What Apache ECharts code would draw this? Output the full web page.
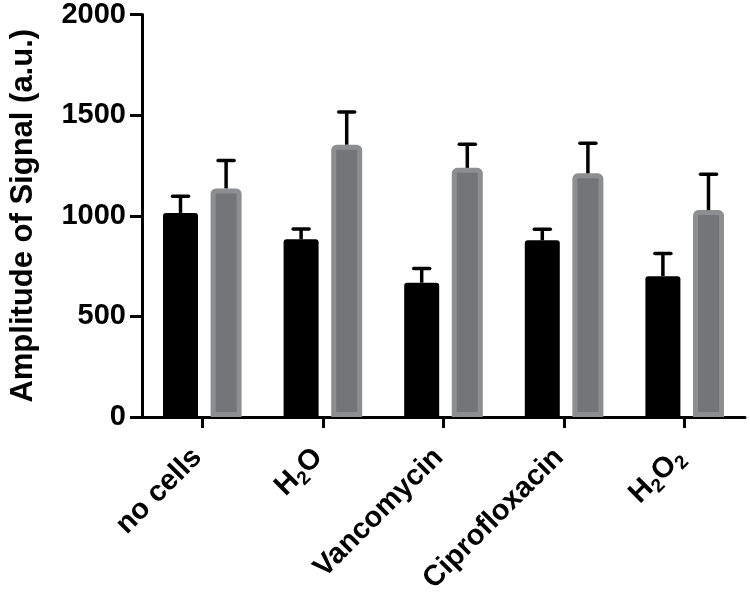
<!DOCTYPE html>
<html>
<head>
<meta charset="utf-8">
<script src="https://cdn.jsdelivr.net/npm/echarts@6/dist/echarts.min.js"></script>
<style>html,body{margin:0;padding:0;background:#fff;}#chart{width:750px;height:600px;}</style>
</head>
<body>
<div id="chart"></div>
<script>
// ---- data ----
const categories = ['no cells', 'H2O', 'Vancomycin', 'Ciprofloxacin', 'H2O2'];
const blackValues = [1014, 883, 667, 878, 700];
const blackErrors = [83, 51, 71, 55, 112];
const grayValues = [1136, 1353, 1238, 1211, 1028];
const grayErrors = [139, 162, 117, 149, 178];
const yTicks = [0, 500, 1000, 1500, 2000];
const yTitle = 'Amplitude of Signal (a.u.)';

// ---- layout constants ----
const FONT = 'Liberation Sans';
const BLACK_W = 35, GRAY_W = 31, GAP = 0.36, GRAY_BORDER = 5;
const offStart = -(BLACK_W * (1 + GAP) + GRAY_W) / 2;
const blackCenter = offStart + BLACK_W / 2;
const grayCenter = offStart + BLACK_W * (1 + GAP) + GRAY_W / 2;

function errRender(offset) {
  return function (params, api) {
    const cx = api.coord([api.value(0), 0])[0] + offset;
    const yBase = api.coord([api.value(0), api.value(1)])[1];
    const yTop = api.coord([api.value(0), api.value(1) + api.value(2)])[1];
    return {
      type: 'group',
      children: [
        { type: 'line', shape: { x1: cx, y1: yBase, x2: cx, y2: yTop }, style: { stroke: '#000', lineWidth: 3.5 } },
        { type: 'line', shape: { x1: cx - 8, y1: yTop, x2: cx + 8, y2: yTop }, style: { stroke: '#000', lineWidth: 3.5, lineCap: 'round' } }
      ]
    };
  };
}

const chart = echarts.init(document.getElementById('chart'), null, { renderer: 'canvas' });
chart.setOption({
  animation: false,
  backgroundColor: '#fff',
  grid: { left: 142, right: 5, top: 14, bottom: 183, containLabel: false },
  xAxis: {
    type: 'category',
    data: categories,
    axisLine: { lineStyle: { color: '#000', width: 3 } },
    axisTick: { show: true, alignWithLabel: true, length: 11, lineStyle: { color: '#000', width: 3 } },
    axisLabel: {
      rotate: 45, margin: 31, interval: 0, padding: [0, 7, 0, 0],
      formatter: function (v) { return '{a|' + v.replace(/(\d)/g, '}{s|$1}{a|') + '}'; },
      rich: {
        a: { fontFamily: FONT, fontWeight: 'bold', fontSize: 29, color: '#000', lineHeight: 36 },
        s: { fontFamily: FONT, fontWeight: 'bold', fontSize: 19, color: '#000', lineHeight: 19, verticalAlign: 'bottom' }
      }
    }
  },
  yAxis: {
    type: 'value', min: yTicks[0], max: yTicks[yTicks.length - 1], interval: yTicks[1] - yTicks[0],
    name: yTitle, nameLocation: 'middle', nameGap: 103,
    nameTextStyle: { fontFamily: FONT, fontWeight: 'bold', fontSize: 31, color: '#000' },
    splitLine: { show: false },
    axisLine: { show: true, lineStyle: { color: '#000', width: 3 } },
    axisTick: { show: true, length: 12, lineStyle: { color: '#000', width: 3 } },
    axisLabel: {
      margin: 16, fontFamily: FONT, fontWeight: 'bold', fontSize: 29, color: '#000',
      formatter: function (v) { return String(v); }
    }
  },
  series: [
    {
      type: 'bar', data: blackValues, barWidth: BLACK_W, barGap: (GAP * 100) + '%',
      itemStyle: { color: '#000', borderRadius: [3, 3, 0, 0] }, z: 2
    },
    {
      type: 'bar', data: grayValues, barWidth: GRAY_W,
      itemStyle: { color: '#747579', borderColor: '#8c8e90', borderWidth: GRAY_BORDER, borderRadius: [3, 3, 0, 0] }, z: 2
    },
    {
      type: 'custom', renderItem: errRender(blackCenter),
      data: blackValues.map((v, i) => [i, v, blackErrors[i]]), encode: { x: 0, y: 1 }, z: 5
    },
    {
      type: 'custom', renderItem: errRender(grayCenter),
      data: grayValues.map((v, i) => [i, v, grayErrors[i]]), encode: { x: 0, y: 1 }, z: 5
    }
  ]
});
</script>
</body>
</html>
